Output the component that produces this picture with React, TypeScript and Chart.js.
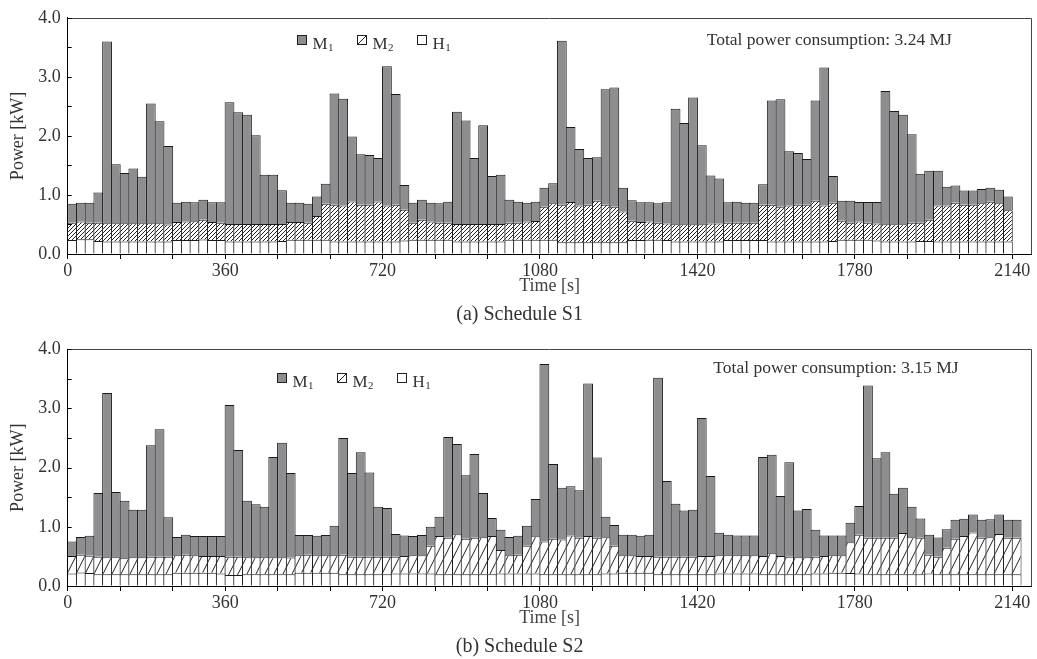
import React, { useEffect, useRef } from 'react';
import { Chart, registerables } from 'chart.js';

Chart.register(...registerables);

const FONT = "'Liberation Serif', 'Times New Roman', serif";
const TEXT = '#333333';
const GREY = '#8e8e90';
const EDGE = '#1a1a1a';

// ---- data -------------------------------------------------------------
const seriesNames = [
  { main: 'M', sub: '1' },
  { main: 'M', sub: '2' },
  { main: 'H', sub: '1' },
];
const xTickLabels = ['0', '360', '720', '1080', '1420', '1780', '2140'];
const yTickValues = [0, 0.5, 1, 1.5, 2, 2.5, 3, 3.5, 4];
const barSeconds = 20;
const minorTickSeconds = 120;
const xAxisMax = 2204;

// Schedule S1 (kW per 20 s interval)
const h1S1 = [
  0.235, 0.25, 0.25, 0.22, 0.21, 0.21, 0.21, 0.21, 0.21, 0.21,
  0.21, 0.21, 0.235, 0.235, 0.235, 0.245, 0.235, 0.235, 0.21, 0.21,
  0.21, 0.21, 0.21, 0.21, 0.22, 0.24, 0.24, 0.24, 0.24, 0.24,
  0.21, 0.21, 0.21, 0.21, 0.21, 0.21, 0.21, 0.21, 0.23, 0.24,
  0.24, 0.24, 0.24, 0.24, 0.21, 0.21, 0.21, 0.21, 0.21, 0.21,
  0.24, 0.24, 0.24, 0.24, 0.24, 0.24, 0.2, 0.2, 0.2, 0.2,
  0.2, 0.2, 0.2, 0.2, 0.235, 0.235, 0.24, 0.24, 0.235, 0.21,
  0.21, 0.21, 0.21, 0.21, 0.21, 0.235, 0.235, 0.235, 0.235, 0.235,
  0.21, 0.21, 0.21, 0.21, 0.21, 0.21, 0.21, 0.22, 0.24, 0.24,
  0.24, 0.24, 0.23, 0.21, 0.21, 0.21, 0.21, 0.22, 0.22, 0.21,
  0.21, 0.21, 0.21, 0.21, 0.21, 0.21, 0.21, 0.21,
];
const m2S1 = [
  0.295, 0.3, 0.28, 0.31, 0.31, 0.31, 0.31, 0.31, 0.31, 0.31,
  0.31, 0.29, 0.305, 0.315, 0.32, 0.335, 0.305, 0.295, 0.3, 0.3,
  0.3, 0.3, 0.3, 0.3, 0.29, 0.3, 0.3, 0.29, 0.405, 0.61,
  0.625, 0.61, 0.68, 0.625, 0.625, 0.68, 0.61, 0.625, 0.52, 0.29,
  0.34, 0.31, 0.29, 0.29, 0.3, 0.3, 0.3, 0.3, 0.3, 0.3,
  0.29, 0.29, 0.31, 0.32, 0.56, 0.62, 0.635, 0.68, 0.62, 0.635,
  0.7, 0.635, 0.6, 0.52, 0.33, 0.305, 0.31, 0.29, 0.28, 0.295,
  0.295, 0.295, 0.295, 0.305, 0.305, 0.295, 0.295, 0.295, 0.295, 0.6,
  0.625, 0.59, 0.61, 0.625, 0.625, 0.69, 0.61, 0.65, 0.325, 0.29,
  0.31, 0.29, 0.285, 0.295, 0.295, 0.295, 0.32, 0.31, 0.36, 0.61,
  0.61, 0.66, 0.625, 0.625, 0.65, 0.675, 0.65, 0.53,
];
const m1S1 = [
  0.32, 0.32, 0.34, 0.51, 3.08, 1.0, 0.85, 0.93, 0.79, 2.03,
  1.73, 1.33, 0.33, 0.335, 0.32, 0.34, 0.335, 0.345, 2.06, 1.89,
  1.85, 1.5, 0.83, 0.83, 0.57, 0.33, 0.33, 0.32, 0.33, 0.34,
  1.885, 1.81, 1.1, 0.855, 0.84, 0.735, 2.36, 1.875, 0.42, 0.34,
  0.34, 0.32, 0.33, 0.355, 1.9, 1.75, 1.115, 1.67, 0.81, 0.83,
  0.39, 0.355, 0.32, 0.325, 0.32, 0.34, 2.775, 1.27, 0.96, 0.79,
  0.74, 1.955, 2.02, 0.4, 0.345, 0.335, 0.325, 0.33, 0.36, 1.955,
  1.715, 2.145, 1.335, 0.815, 0.765, 0.345, 0.355, 0.34, 0.34, 0.345,
  1.765, 1.82, 0.92, 0.875, 0.775, 1.7, 2.34, 0.45, 0.335, 0.37,
  0.33, 0.35, 0.365, 2.255, 1.915, 1.855, 1.5, 0.83, 0.83, 0.59,
  0.32, 0.29, 0.24, 0.24, 0.24, 0.235, 0.23, 0.235,
];

// Schedule S2
const h1S2 = [
  0.21, 0.23, 0.22, 0.2, 0.2, 0.2, 0.2, 0.2, 0.2, 0.2,
  0.2, 0.2, 0.225, 0.225, 0.225, 0.225, 0.225, 0.21, 0.185, 0.185,
  0.2, 0.2, 0.2, 0.2, 0.2, 0.2, 0.225, 0.225, 0.225, 0.225,
  0.225, 0.2, 0.2, 0.2, 0.2, 0.2, 0.2, 0.21, 0.21, 0.21,
  0.21, 0.21, 0.2, 0.2, 0.2, 0.2, 0.2, 0.2, 0.2, 0.21,
  0.21, 0.21, 0.21, 0.21, 0.2, 0.2, 0.2, 0.2, 0.2, 0.2,
  0.2, 0.21, 0.21, 0.225, 0.225, 0.225, 0.225, 0.2, 0.2, 0.2,
  0.2, 0.2, 0.2, 0.2, 0.21, 0.21, 0.21, 0.21, 0.21, 0.2,
  0.2, 0.2, 0.2, 0.2, 0.2, 0.21, 0.21, 0.225, 0.225, 0.22,
  0.21, 0.2, 0.2, 0.2, 0.2, 0.2, 0.2, 0.2, 0.21, 0.2,
  0.2, 0.2, 0.2, 0.2, 0.2, 0.2, 0.2, 0.2, 0.2,
];
const m2S2 = [
  0.295, 0.3, 0.29, 0.295, 0.285, 0.285, 0.27, 0.285, 0.285, 0.295,
  0.295, 0.295, 0.295, 0.305, 0.295, 0.28, 0.28, 0.295, 0.31, 0.31,
  0.285, 0.285, 0.285, 0.285, 0.285, 0.28, 0.295, 0.305, 0.295, 0.295,
  0.295, 0.33, 0.295, 0.295, 0.295, 0.295, 0.295, 0.285, 0.295, 0.31,
  0.31, 0.47, 0.645, 0.615, 0.675, 0.6, 0.615, 0.625, 0.645, 0.4,
  0.31, 0.32, 0.47, 0.63, 0.55, 0.6, 0.585, 0.655, 0.615, 0.645,
  0.615, 0.615, 0.47, 0.295, 0.295, 0.28, 0.28, 0.295, 0.295, 0.295,
  0.295, 0.295, 0.305, 0.305, 0.31, 0.31, 0.31, 0.31, 0.31, 0.305,
  0.355, 0.305, 0.295, 0.285, 0.285, 0.285, 0.295, 0.295, 0.295, 0.52,
  0.655, 0.615, 0.615, 0.615, 0.615, 0.695, 0.625, 0.615, 0.32, 0.295,
  0.445, 0.6, 0.645, 0.705, 0.615, 0.625, 0.68, 0.615, 0.615,
];
const m1S2 = [
  0.245, 0.3, 0.34, 1.075, 2.775, 1.105, 0.97, 0.805, 0.805, 1.885,
  2.155, 0.665, 0.31, 0.335, 0.325, 0.34, 0.34, 0.34, 2.565, 1.805,
  0.955, 0.895, 0.855, 1.695, 1.935, 1.43, 0.34, 0.33, 0.33, 0.34,
  0.5, 1.97, 1.415, 1.765, 1.425, 0.845, 0.825, 0.385, 0.35, 0.325,
  0.34, 0.32, 0.325, 1.705, 1.525, 1.07, 1.415, 0.745, 0.305, 0.34,
  0.31, 0.32, 0.34, 0.63, 3.0, 1.26, 0.875, 0.83, 0.805, 2.575,
  1.355, 0.345, 0.35, 0.345, 0.345, 0.345, 0.36, 3.025, 1.28, 0.895,
  0.78, 0.795, 2.335, 1.355, 0.38, 0.345, 0.335, 0.335, 0.335, 1.675,
  1.665, 1.015, 1.595, 0.79, 0.815, 0.455, 0.35, 0.335, 0.335, 0.33,
  0.485, 2.575, 1.345, 1.445, 0.745, 0.765, 0.515, 0.325, 0.335, 0.325,
  0.315, 0.32, 0.29, 0.305, 0.305, 0.305, 0.33, 0.305, 0.305,
];

// ---- helpers -------------------------------------------------------------
function makeHatch(w: number, h: number, lw: number): CanvasPattern | string {
  const c = document.createElement('canvas');
  c.width = w;
  c.height = h;
  const g = c.getContext('2d');
  if (!g) return '#fff';
  g.fillStyle = '#ffffff';
  g.fillRect(0, 0, w, h);
  g.strokeStyle = '#222222';
  g.lineWidth = lw;
  g.beginPath();
  for (const dx of [-w, 0, w]) {
    g.moveTo(dx, h);
    g.lineTo(dx + w, 0);
  }
  g.stroke();
  const p = g.createPattern(c, 'repeat');
  return p || '#fff';
}

const decorPlugin = {
  id: 'decor',
  afterDraw(chart: any, _args: any, o: any) {
    const { ctx, chartArea: a, scales } = chart;
    ctx.save();
    // frame (top + right)
    ctx.strokeStyle = '#444444';
    ctx.lineWidth = 1;
    ctx.beginPath();
    ctx.moveTo(a.left, Math.round(a.top) + 0.5);
    ctx.lineTo(Math.round(a.right) - 0.5, Math.round(a.top) + 0.5);
    ctx.lineTo(Math.round(a.right) - 0.5, a.bottom);
    ctx.stroke();
    // inward y ticks
    const y = scales.y;
    ctx.strokeStyle = '#000000';
    ctx.beginPath();
    y.ticks.forEach((t: any) => {
      const py = Math.round(y.getPixelForValue(t.value)) + 0.5;
      ctx.moveTo(a.left, py);
      ctx.lineTo(a.left + 4, py);
    });
    ctx.stroke();
    // legend
    const fills = [GREY, '#ffffff', '#ffffff'];
    seriesNames.forEach((s, k) => {
      const bx = Math.round(o.legendLeft + k * 60);
      const by = Math.round(a.top + o.legendTop);
      ctx.fillStyle = fills[k];
      ctx.fillRect(bx, by, 10, 10);
      ctx.strokeStyle = '#222222';
      ctx.lineWidth = 1;
      ctx.strokeRect(bx + 0.5, by + 0.5, 9, 9);
      if (k === 1) {
        ctx.beginPath();
        ctx.moveTo(bx + 0.5, by + 9.5);
        ctx.lineTo(bx + 9.5, by + 0.5);
        ctx.stroke();
      }
      ctx.fillStyle = TEXT;
      ctx.textBaseline = 'alphabetic';
      ctx.textAlign = 'left';
      ctx.font = `17px ${FONT}`;
      ctx.fillText(s.main, bx + 15.5, by + 13.5);
      const w = ctx.measureText(s.main).width;
      ctx.font = `11px ${FONT}`;
      ctx.fillText(s.sub, bx + 15.5 + w + 0.5, by + 15.5);
    });
    // total text
    ctx.font = `17.5px ${FONT}`;
    ctx.fillStyle = TEXT;
    ctx.fillText(o.total, o.totalLeft, a.top + o.totalBaseline);
    ctx.restore();
  },
};

interface PanelProps {
  h1: number[];
  m2: number[];
  m1: number[];
  caption: string;
  total: string;
  height: number;
  top: number;
  padTop: number;
  padBottom: number;
  legendLeft: number;
  legendTop: number;
  totalLeft: number;
  totalBaseline: number;
  hatchW: number;
  hatchH: number;
}

function Panel(p: PanelProps) {
  const ref = useRef<HTMLCanvasElement | null>(null);
  useEffect(() => {
    if (!ref.current) return;
    const hatch = makeHatch(p.hatchW, p.hatchH, 1);
    const xs = p.h1.map((_, i) => i * barSeconds + barSeconds / 2);
    const common = {
      borderColor: EDGE,
      borderWidth: 1,
      barPercentage: 1.12,
      categoryPercentage: 1,
      stack: 's',
    };
    const chart = new Chart(ref.current, {
      type: 'bar',
      data: {
        datasets: [
          { ...common, label: 'H1', data: p.h1.map((v, i) => ({ x: xs[i], y: v })), backgroundColor: '#ffffff' },
          { ...common, label: 'M2', data: p.m2.map((v, i) => ({ x: xs[i], y: v })), backgroundColor: hatch as any },
          { ...common, label: 'M1', data: p.m1.map((v, i) => ({ x: xs[i], y: v })), backgroundColor: GREY },
        ],
      },
      options: {
        responsive: false,
        maintainAspectRatio: false,
        devicePixelRatio: 1,
        animation: false,
        layout: { padding: { left: 7.7, right: 5.5, top: p.padTop, bottom: p.padBottom } },
        plugins: {
          legend: { display: false },
          tooltip: { enabled: false },
          title: {
            display: true,
            position: 'bottom',
            text: p.caption,
            color: TEXT,
            font: { family: FONT, size: 20, weight: 'normal' },
            padding: { top: 5.5, bottom: 0 },
          },
          decor: {
            legendLeft: p.legendLeft,
            legendTop: p.legendTop,
            total: p.total,
            totalLeft: p.totalLeft,
            totalBaseline: p.totalBaseline,
          },
        } as any,
        scales: {
          x: {
            type: 'linear',
            stacked: true,
            min: 0,
            max: xAxisMax,
            offset: false,
            afterBuildTicks: (s: any) => {
              const n = (xTickLabels.length - 1) * 3 + 1;
              s.ticks = Array.from({ length: n }, (_, k) => ({ value: k * minorTickSeconds }));
            },
            afterFit: (s: any) => {
              s.height = 43.5;
            },
            ticks: {
              autoSkip: false,
              maxRotation: 0,
              minRotation: 0,
              padding: 1,
              color: TEXT,
              font: { family: FONT, size: 18 },
              callback: (_v: any, i: number) => (i % 3 === 0 ? xTickLabels[i / 3] : ''),
            },
            grid: { display: true, drawOnChartArea: false, drawTicks: true, tickLength: 5, color: '#000', offset: false },
            border: { display: true, color: '#000' },
            title: {
              display: true,
              text: 'Time [s]',
              color: '#444',
              font: { family: FONT, size: 18 },
              padding: { top: 0, bottom: 0 },
            },
          },
          y: {
            type: 'linear',
            stacked: true,
            min: 0,
            max: 4,
            afterBuildTicks: (s: any) => {
              s.ticks = yTickValues.map((v) => ({ value: v }));
            },
            afterFit: (s: any) => {
              s.width = 60;
            },
            ticks: {
              autoSkip: false,
              padding: 7,
              color: TEXT,
              font: { family: FONT, size: 18 },
              callback: (v: any) => (Number.isInteger(v) ? Number(v).toFixed(1) : ''),
            },
            grid: { display: true, drawOnChartArea: false, drawTicks: false },
            border: { display: true, color: '#000' },
            title: {
              display: true,
              text: 'Power [kW]',
              color: TEXT,
              font: { family: FONT, size: 18 },
              padding: { top: 0, bottom: 0 },
            },
          },
        },
      } as any,
      plugins: [decorPlugin as any],
    });
    return () => chart.destroy();
  }, []);
  return (
    <canvas
      ref={ref}
      width={1037}
      height={p.height}
      style={{ position: 'absolute', left: 0, top: p.top, width: 1037, height: p.height }}
    />
  );
}

export default function App() {
  return (
    <div style={{ position: 'fixed', left: 0, top: 0, width: 1037, height: 659, background: '#ffffff', overflow: 'hidden' }}>
      <Panel
        h1={h1S1}
        m2={m2S1}
        m1={m1S1}
        caption="(a) Schedule S1"
        total="Total power consumption: 3.24 MJ"
        height={330}
        top={0}
        padTop={16}
        padBottom={3}
        legendLeft={297}
        legendTop={17.3}
        totalLeft={706.7}
        totalBaseline={27.3}
        hatchW={4}
        hatchH={4}
      />
      <Panel
        h1={h1S2}
        m2={m2S2}
        m1={m1S2}
        caption="(b) Schedule S2"
        total="Total power consumption: 3.15 MJ"
        height={329}
        top={330}
        padTop={19.3}
        padBottom={0}
        legendLeft={277}
        legendTop={24}
        totalLeft={713.3}
        totalBaseline={24}
        hatchW={9}
        hatchH={18}
      />
    </div>
  );
}
